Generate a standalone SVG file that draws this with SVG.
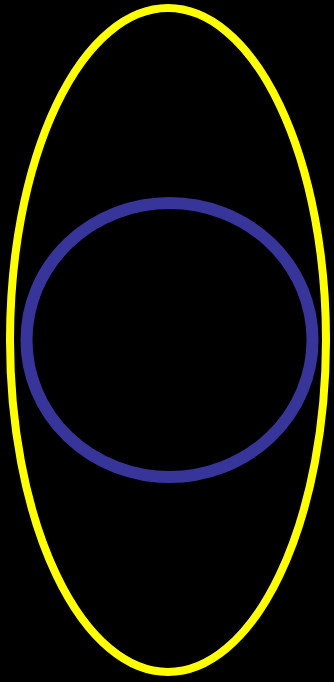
<svg xmlns="http://www.w3.org/2000/svg" width="334" height="682" viewBox="0 0 334 682">
<style>
.e{fill:none}
</style>
<rect x="0" y="0" width="334" height="682" fill="#000000"/>
<g id="outer"><ellipse class="e" cx="168" cy="340" rx="158" ry="332" stroke="#ffff00" stroke-width="8"/></g>
<g id="inner"><ellipse class="e" cx="169.5" cy="340" rx="143" ry="137" stroke="#37359a" stroke-width="12"/></g>
<g id="connectors"></g>
</svg>
